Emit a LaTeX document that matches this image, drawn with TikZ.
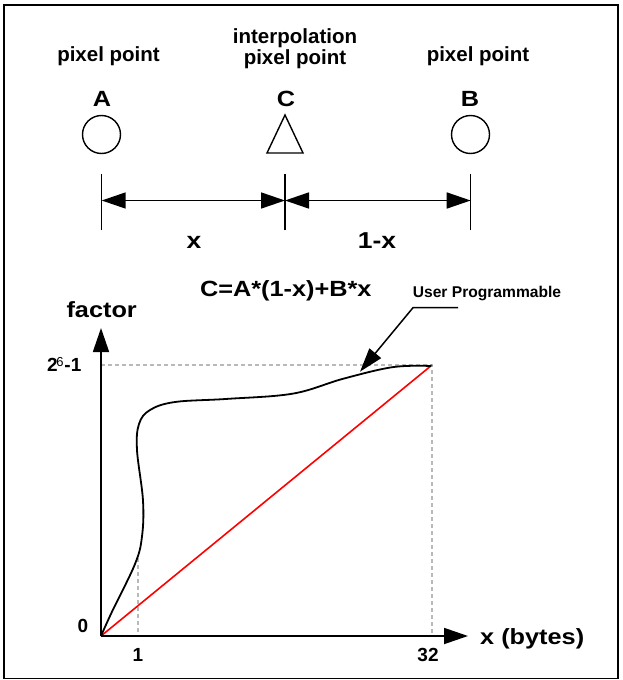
\documentclass[tikz,border=0pt]{standalone}
\usepackage{fontspec}
\setmainfont{Liberation Sans}
\newfontfamily\widefont[FakeStretch=1.15]{Liberation Sans}
\usetikzlibrary{arrows.meta}

\begin{document}
\begin{tikzpicture}[
    x=1pt, y=-1pt,
    txt/.style={inner sep=0pt, anchor=base, align=center, font=\fontsize{20.5}{17.5}\selectfont\bfseries},
    big/.style={inner sep=0pt, anchor=base, font=\widefont\fontsize{22}{22}\selectfont\bfseries},
    num/.style={inner sep=0pt, anchor=base, font=\fontsize{19}{19}\selectfont\bfseries},
    pixnode/.style={draw, circle, line width=1.4pt, minimum size=38pt, inner sep=0pt},
    tickline/.style={line width=1.4pt},
    dimline/.style={{Triangle[length=24pt,width=16pt]}-{Triangle[length=24pt,width=16pt]}, line width=1.6pt},
    axisline/.style={-{Triangle[length=24pt,width=16pt]}, line width=1.8pt},
    guide/.style={gray!55, dash pattern=on 4pt off 3pt, line width=1.2pt},
]
    \useasboundingbox (0,0) rectangle (623,680);
    \draw[line width=1.5pt] (4,5) rectangle (618,678.5);

    % Pixel points
    \node[txt] (pixL) at (108.5,61.5) {pixel point};
    \node[txt] (interp) at (295,64) {interpolation\\pixel point};
    \node[txt] (pixR) at (478,61.5) {pixel point};
    \node[big] (labA) at (102,106.5) {A};
    \node[big] (labC) at (286,106.5) {C};
    \node[big] (labB) at (470,106.5) {B};
    \node[pixnode] (A) at (101.5,134.5) {};
    \node[pixnode] (B) at (470.5,134.5) {};
    \draw[line width=1.4pt] (285,115) -- (267,153) -- (303,153) -- cycle;

    % Distances
    \coordinate (tA) at (101.7,200.5);
    \coordinate (tC) at (285,200.5);
    \coordinate (tB) at (470.7,200.5);
    \foreach \t in {tA,tC,tB}
        \draw[tickline] ([yshift=-29.5pt]\t) -- ([yshift=26.5pt]\t);
    \draw[dimline] (tA) -- (tC);
    \draw[dimline] (tC) -- (tB);
    \node[big, font=\widefont\fontsize{23}{23}\selectfont\bfseries] (dx) at (194,248.7) {x};
    \node[big, font=\widefont\fontsize{23}{23}\selectfont\bfseries] (dy) at (377,248.7) {1-x};

    \node[big] (formula) at (285.8,296.7) {C=A*(1-x)+B*x};
    \node[txt, font=\fontsize{15.6}{15.6}\selectfont\bfseries] (user) at (487,297) {User Programmable};

    % Graph
    \coordinate (O) at (101,636);
    \coordinate (ytop) at (101,328);
    \coordinate (xend) at (468,636);
    \coordinate (top) at (432,365);
    \draw[guide] (O |- top) -- (top) -- (top |- O);
    \draw[guide] (138,558) -- (138,636);
    \draw[red, line width=1.6pt] (O) -- (top);
    \draw[line width=1.8pt] plot[smooth, tension=0.6] coordinates {
        (101,636) (112,611.7) (135,564) (142,536.5) (143,500.5) (137,450)
        (139,424) (150,410) (175,402) (227,398.9) (293,393.6) (343,378.8) (393,367.1) (431,366)};
    \draw[axisline] (O) -- (ytop);
    \draw[axisline] (O) -- (xend);

    \node[big] (factor) at (101.7,317.3) {factor};
    \node[num, anchor=base west] (ymax) at (47,371.7) {2\raisebox{5pt}{\kern-1.5pt\fontsize{13}{13}\selectfont\mdseries 6}\kern1pt-1};
    \node[num] (zero) at (83,632) {0};
    \node[num] (one) at (138,661.5) {1};
    \node[num] (tt) at (428,661.5) {32};
    \node[big, anchor=base west] (xlab) at (480,644) {x (bytes)};

    % Pointer
    \coordinate (hook) at (413,307.7);
    \coordinate (tip) at (360,371.7);
    \draw[line width=1.5pt, -{Triangle[length=24pt,width=15pt]}] (458,307.7) -- (hook) -- (tip);
\end{tikzpicture}
\end{document}
